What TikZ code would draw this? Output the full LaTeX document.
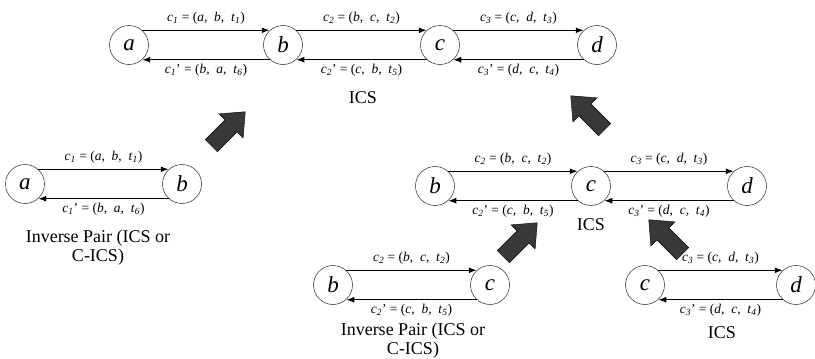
\documentclass[tikz,border=0pt]{standalone}
\usepackage{fontspec}
\setmainfont{Liberation Serif}
\usetikzlibrary{arrows.meta}

% italic symbols with subscripts for the edge tuples
\newcommand{\ci}[1]{\textit{c}\textsubscript{\textit{#1}}}
\newcommand{\ti}[1]{\textit{t}\textsubscript{\textit{#1}}}
\newcommand{\tup}[3]{(\textit{#1},\enspace\textit{#2},\enspace\ti{#3})}

\tikzset{
  vtx/.style={circle, draw=black!75, line width=0.6pt, minimum size=39pt,
              inner sep=0pt, font=\fontsize{23}{23}\selectfont\itshape},
  conn/.style={line width=1.3pt, -{Latex[length=8pt,width=6pt]}},
  elab/.style={font=\fontsize{13.5}{14}\selectfont, inner sep=0pt},
  caption/.style={font=\fontsize{18}{18.5}\selectfont, align=center, inner sep=0pt},
  blockarrow/.style={fill=black!78, draw=black, line width=0.4pt},
}

% a forward and a backward connector between two vertices
\newcommand{\twoway}[4]{%
  \draw[conn] (#1.48) -- (#2.132) node[midway, above=5pt, elab] {#3};
  \draw[conn] (#2.-132) -- (#1.-48) node[midway, below=4pt, elab] {#4};
}

% thick shaded arrow pointing along its local x axis
\newcommand{\bigarrow}[2]{%
  \begin{scope}[shift={#1}, rotate=#2]
    \fill[blockarrow] (-25,-8.5) -- (3,-8.5) -- (3,-17) -- (23,0) -- (3,17) -- (3,8.5) -- (-25,8.5) -- cycle;
  \end{scope}
}

\begin{document}
\begin{tikzpicture}[x=1pt, y=-1pt]
  \useasboundingbox (0,0) rectangle (815,359);

  % chain a-b-c-d
  \node[vtx] (ta) at (129,45) {a};
  \node[vtx] (tb) at (283,45) {b};
  \node[vtx] (tc) at (440,45) {c};
  \node[vtx] (td) at (597,45) {d};
  \twoway{ta}{tb}{\ci{1} = \tup{a}{b}{1}}{\ci{1}' = \tup{b}{a}{6}}
  \twoway{tb}{tc}{\ci{2} = \tup{b}{c}{2}}{\ci{2}' = \tup{c}{b}{5}}
  \twoway{tc}{td}{\ci{3} = \tup{c}{d}{3}}{\ci{3}' = \tup{d}{c}{4}}
  \node[caption] (icsTop) at (363,98) {ICS};

  % inverse pair a-b
  \node[vtx] (la) at (25,184) {a};
  \node[vtx] (lb) at (182,184) {b};
  \twoway{la}{lb}{\ci{1} = \tup{a}{b}{1}}{\ci{1}' = \tup{b}{a}{6}}
  \node[caption, anchor=north] (capL) at (98,230) {Inverse Pair (ICS or\\C-ICS)};

  % chain b-c-d
  \node[vtx] (mb) at (435,186) {b};
  \node[vtx] (mc) at (591,186) {c};
  \node[vtx] (md) at (747,186) {d};
  \twoway{mb}{mc}{\ci{2} = \tup{b}{c}{2}}{\ci{2}' = \tup{c}{b}{5}}
  \twoway{mc}{md}{\ci{3} = \tup{c}{d}{3}}{\ci{3}' = \tup{d}{c}{4}}
  \node[caption] (icsMid) at (591,225) {ICS};

  % inverse pair b-c
  \node[vtx] (bb) at (333,285) {b};
  \node[vtx] (bc) at (490,285) {c};
  \twoway{bb}{bc}{\ci{2} = \tup{b}{c}{2}}{\ci{2}' = \tup{c}{b}{5}}
  \node[caption, anchor=north] (capB) at (413,323) {Inverse Pair (ICS or\\C-ICS)};

  % pair c-d
  \node[vtx] (rc) at (645,285) {c};
  \node[vtx] (rd) at (796,285) {d};
  \twoway{rc}{rd}{\ci{3} = \tup{c}{d}{3}}{\ci{3}' = \tup{d}{c}{4}}
  \node[caption] (icsBot) at (722,333) {ICS};

  % composition arrows
  \bigarrow{(229,128)}{45}
  \bigarrow{(587,112)}{135}
  \bigarrow{(521,239)}{45}
  \bigarrow{(665,236)}{135}
\end{tikzpicture}
\end{document}
